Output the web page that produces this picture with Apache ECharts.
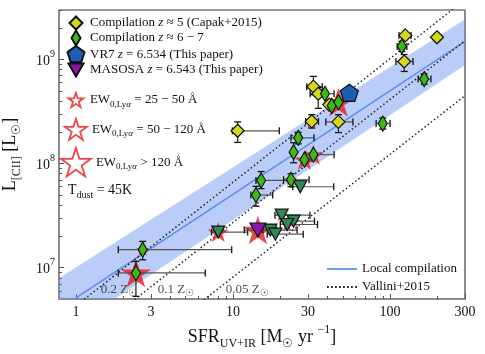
<!DOCTYPE html>
<html>
<head>
<meta charset="utf-8">
<script src="https://cdn.jsdelivr.net/npm/echarts@6/dist/echarts.min.js"></script>
<style>
  html, body { margin: 0; background: #fff; }
  #chart { width: 485px; height: 354px; }
</style>
</head>
<body>
<div id="chart"></div>
<script>
var FONT = 'Liberation Serif';

// axis ticks
var xMajor = [1, 3, 10, 30, 100, 300];
var xMinor = [2, 4, 5, 6, 7, 8, 9, 20, 40, 50, 60, 70, 80, 90, 200];
var yMajor = [1e7, 1e8, 1e9];
var yMinor = [6e6, 7e6, 8e6, 9e6, 2e7, 3e7, 4e7, 5e7, 6e7, 7e7, 8e7, 9e7,
  2e8, 3e8, 4e8, 5e8, 6e8, 7e8, 8e8, 9e8, 2e9, 3e9];

// Compilation z~5 (Capak+2015)
var capakSfr = [125, 123, 199, 32.5, 34.9, 41, 31.7, 46.9, 10.7];
var capakL = [1.71e9, 9.6e8, 1.64e9, 5.5e8, 4.7e8, 3.7e8, 2.55e8, 2.52e8, 2.07e8];
var capakSfrLo = [114, 109, null, 29.5, 31, null, 29, 39, 9.9];
var capakSfrHi = [136, 140, null, 37, 40, null, 35, 58, 19.7];
var capakLLo = [null, 7.7e8, null, 4.6e8, 3.4e8, null, 2.2e8, 1.99e8, 1.6e8];
var capakLHi = [null, 1.12e9, null, 6.9e8, 5.4e8, null, 2.96e8, 2.96e8, 2.52e8];

// Compilation z~6-7, detections
var zsixSfr = [118.8, 165, 89.8, 38.5, 42.5, 46.9, 26, 24.3, 28.5, 32.5, 15.1, 23.4, 14, 2.66, 2.41];
var zsixL = [1.34e9, 6.5e8, 2.43e8, 4.7e8, 3.6e8, 3.9e8, 1.77e8, 1.29e8, 1.09e8, 1.22e8, 6.9e7, 7.0e7, 5.0e7, 1.49e7, 8.9e6];
var zsixSfrLo = [111, 151, 81.5, 35.3, null, null, 23.4, null, null, 29, 14, 21, 13, 1.86, 1.86];
var zsixSfrHi = [128, 182, 100, 44, null, null, 32.8, null, null, 44, 22.5, 30.5, 17.9, 9.81, 6.66];
var zsixLLo = [1.2e9, 5.8e8, 2.15e8, null, null, null, 1.55e8, 1.02e8, null, null, 5.75e7, 6.0e7, 3.9e7, 1.19e7, 5.3e6];
var zsixLHi = [1.5e9, 7.3e8, 2.75e8, null, null, null, 2.0e8, 1.59e8, null, null, 8.4e7, 8.0e7, 6.05e7, 1.79e7, 1.15e7];

// Compilation z~6-7, upper limits
var limSfr = [26.8, 20.4, 24.3, 22.1, 17.3, 18.6, 8.06];
var limL = [6.0e7, 3.2e7, 2.8e7, 2.6e7, 2.3e7, 2.1e7, 2.2e7];
var limSfrLo = [24, 18.5, 22, 20, 15.5, 16.5, 7.3];
var limSfrHi = [43.8, 30.9, 33, 34.5, 25.6, 28, 12.4];
var limLLo = [null, null, null, null, null, null, null];
var limLHi = [null, null, null, null, null, null, null];

// this paper
var vr7 = [[55, 4.8e8]];
var masosaSfr = [14.4];
var masosaL = [2.3e7];
var masosaSfrLo = [11.8];
var masosaSfrHi = [19];
var masosaLLo = [null];
var masosaLHi = [null];

// Lya EW stars
var ewSmall = [[2.66, 1.49e7], [20.4, 3.2e7], [22.1, 2.6e7], [24.3, 2.8e7], [31.7, 2.55e8], [42.5, 3.6e8], [23.4, 7.0e7]];
var ewMid = [[8.06, 2.2e7], [28.5, 1.09e8], [32.5, 1.22e8]];
var ewLarge = [[2.41, 8.9e6], [14.4, 2.3e7], [46.9, 3.9e8]];

// relations
var localLine = [[0.78, 4.0e6], [300, 1.5e9]];
var bandX = [0.78, 300];
var bandUpper = [7.9e6, 2.45e9];
var bandLower = [2.2e6, 8.9e8];
var vallini02 = [[0.78, 3.2e6], [300, 3.77e9]];
var vallini01 = [[0.78, 1.33e6], [300, 1.52e9]];
var vallini005 = [[0.78, 4.0e5], [300, 4.5e8]];
var zLabelText = ['0.2', '0.1', '0.05'];
var zLabelAt = [[1.88, 6.14e6], [4.33, 6.14e6], [12.3, 6.14e6]];

var STAR = 'path://M0,-10L2.245,-3.09L9.511,-3.09L3.633,1.18L5.878,8.09L0,3.82L-5.878,8.09L-3.633,1.18L-9.511,-3.09L-2.245,-3.09Z';
var PENTA = 'path://M0,-10L9.511,-3.09L5.878,8.09L-5.878,8.09L-9.511,-3.09Z';
var TRI_DOWN = 'path://M-10,-8.66L10,-8.66L0,8.66Z';
var SOLID_ICON = 'path://M0,0h30v1.8h-30z';
var DOT_ICON = 'path://M0,0h1.8v1.8h-1.8zM4,0h1.8v1.8h-1.8zM8,0h1.8v1.8h-1.8zM12,0h1.8v1.8h-1.8zM16,0h1.8v1.8h-1.8zM20,0h1.8v1.8h-1.8zM24,0h1.8v1.8h-1.8zM28.2,0h1.8v1.8h-1.8z';

var chart = echarts.init(document.getElementById('chart'));

function pairs(xs, ys) {
  return xs.map(function (x, i) { return [x, ys[i]]; });
}

function errBars(xs, ys, xLo, xHi, yLo, yHi) {
  return function (params, api) {
    var i = params.dataIndex;
    var kids = [];
    var cap = 3.5;
    if (xLo[i] != null) {
      var a = api.coord([xLo[i], ys[i]]);
      var b = api.coord([xHi[i], ys[i]]);
      kids.push({ type: 'line', shape: { x1: a[0], y1: a[1], x2: b[0], y2: b[1] }, style: { stroke: '#555', lineWidth: 1.2 } });
      kids.push({ type: 'line', shape: { x1: a[0], y1: a[1] - cap, x2: a[0], y2: a[1] + cap }, style: { stroke: '#111', lineWidth: 1.3 } });
      kids.push({ type: 'line', shape: { x1: b[0], y1: b[1] - cap, x2: b[0], y2: b[1] + cap }, style: { stroke: '#111', lineWidth: 1.3 } });
    }
    if (yLo[i] != null) {
      var c = api.coord([xs[i], yLo[i]]);
      var d = api.coord([xs[i], yHi[i]]);
      kids.push({ type: 'line', shape: { x1: c[0], y1: c[1], x2: d[0], y2: d[1] }, style: { stroke: '#222', lineWidth: 1.2 } });
      kids.push({ type: 'line', shape: { x1: c[0] - cap, y1: c[1], x2: c[0] + cap, y2: c[1] }, style: { stroke: '#111', lineWidth: 1.3 } });
      kids.push({ type: 'line', shape: { x1: d[0] - cap, y1: d[1], x2: d[0] + cap, y2: d[1] }, style: { stroke: '#111', lineWidth: 1.3 } });
    }
    return { type: 'group', children: kids };
  };
}

function errSeries(xs, ys, xLo, xHi, yLo, yHi) {
  return {
    type: 'custom', z: 4, clip: true, silent: true,
    data: pairs(xs, ys),
    encode: { x: 0, y: 1 },
    renderItem: errBars(xs, ys, xLo, xHi, yLo, yHi)
  };
}

var rich = {
  r: { fontFamily: FONT, fontSize: 13, color: '#111' },
  i: { fontFamily: FONT, fontSize: 13, fontStyle: 'italic', color: '#111' },
  sub: { fontFamily: FONT, fontSize: 9, color: '#111', verticalAlign: 'bottom', lineHeight: 18 },
  subi: { fontFamily: FONT, fontSize: 9, fontStyle: 'italic', color: '#111', verticalAlign: 'bottom', lineHeight: 18 }
};

var legendText = {
  capak: '{r|Compilation }{i|z}{r| ≈ 5 (Capak+2015)}',
  zsix: '{r|Compilation }{i|z}{r| ≈ 6 − 7}',
  vr7: '{r|VR7 }{i|z}{r| = 6.534 (This paper)}',
  masosa: '{r|MASOSA }{i|z}{r| = 6.543 (This paper)}',
  ew1: '{r|EW}{sub|0,Ly}{subi|α}{r| = 25 − 50 Å}',
  ew2: '{r|EW}{sub|0,Ly}{subi|α}{r| = 50 − 120 Å}',
  ew3: '{r|EW}{sub|0,Ly}{subi|α}{r| > 120 Å}',
  local: '{r|Local compilation}',
  vallini: '{r|Vallini+2015}'
};

function oneLegend(name, cy, w, h, extra) {
  var gap = Math.max(0, 89 - (75 + w / 2 + 5));
  var lg = {
    data: [name], selectedMode: false, padding: 0,
    left: 75 - w / 2, top: cy - 9, itemWidth: w, itemHeight: h,
    textStyle: { fontFamily: FONT, fontSize: 13, lineHeight: 18, rich: Object.assign({ g: { width: gap } }, rich) },
    formatter: function (n) { return (gap ? '{g|}' : '') + legendText[n]; }
  };
  if (extra) Object.assign(lg, extra);
  return lg;
}

var starLegendStyle = { itemStyle: { color: '#fff', borderColor: '#e51b1b', borderWidth: 1.8 } };

var option = {
  backgroundColor: '#fff',
  animation: false,
  title: {
    text: '{r|T}{sub|dust}{r| = 45K}',
    left: 68, top: 180, padding: 0,
    textStyle: { fontWeight: 'normal', rich: {
      r: { fontFamily: FONT, fontSize: 14, fontWeight: 'normal', color: '#111' },
      sub: { fontFamily: FONT, fontSize: 10, fontWeight: 'normal', color: '#111', verticalAlign: 'bottom', lineHeight: 20 }
    } }
  },
  grid: {
    left: 59, right: 20, top: 10, bottom: 55, outerBoundsMode: 'none', containLabel: false,
    show: true, borderColor: '#333', borderWidth: 1
  },
  legend: [
    oneLegend('capak', 23, 13, 13),
    oneLegend('zsix', 38, 9, 15),
    oneLegend('vr7', 54, 17, 17),
    oneLegend('masosa', 70, 15, 14),
    oneLegend('ew1', 100, 15, 15, starLegendStyle),
    oneLegend('ew2', 127, 22, 22, starLegendStyle),
    oneLegend('ew3', 156, 30, 30, starLegendStyle),
    {
      data: [{ name: 'local', icon: SOLID_ICON }, { name: 'vallini', icon: DOT_ICON }],
      orient: 'vertical', selectedMode: false, padding: 0,
      left: 327, top: 261, itemWidth: 30, itemHeight: 1.8, itemGap: 2,
      textStyle: { fontFamily: FONT, fontSize: 13.5, lineHeight: 16, rich: rich },
      formatter: function (n) { return legendText[n]; }
    }
  ],
  xAxis: [
    {
      type: 'log', min: 0.78, max: 300, logBase: 10,
      name: '{a|SFR}{sub|UV+IR}{a| [M}{sub|☉}{a| yr }{sup|−1}{a|]}',
      nameLocation: 'middle', nameGap: 23,
      nameTextStyle: { rich: {
        a: { fontFamily: FONT, fontSize: 18, color: '#111', lineHeight: 26 },
        sub: { fontFamily: FONT, fontSize: 12, color: '#111', verticalAlign: 'bottom', lineHeight: 26 },
        sup: { fontFamily: FONT, fontSize: 12, color: '#111', verticalAlign: 'top', lineHeight: 26 }
      } },
      axisLine: { lineStyle: { color: '#888', width: 1.6 } },
      axisTick: { inside: true, length: 5, customValues: xMajor, lineStyle: { color: '#555' } },
      axisLabel: {
        customValues: xMajor, margin: 6, fontFamily: FONT, fontSize: 14, color: '#111',
        formatter: function (v) { return String(+(+v).toPrecision(3)); }
      },
      splitLine: { show: false }
    },
    {
      type: 'log', min: 0.78, max: 300, position: 'bottom',
      axisLine: { show: false },
      axisTick: { inside: true, length: 3, customValues: xMinor, lineStyle: { color: '#555' } },
      axisLabel: { show: false },
      splitLine: { show: false }
    }
  ],
  yAxis: [
    {
      type: 'log', min: 5e6, max: 3e9,
      name: '{a|L}{sub|[CII]}{a| [L}{sub|☉}{a|]}',
      nameLocation: 'middle', nameGap: 36,
      nameTextStyle: { rich: {
        a: { fontFamily: FONT, fontSize: 18, color: '#111', lineHeight: 26 },
        sub: { fontFamily: FONT, fontSize: 12, color: '#111', verticalAlign: 'bottom', lineHeight: 26 }
      } },
      axisLine: { lineStyle: { color: '#888', width: 1.6 } },
      axisTick: { inside: true, length: 5, customValues: yMajor, lineStyle: { color: '#555' } },
      axisLabel: {
        customValues: yMajor, margin: 4,
        formatter: function (v) { return '{a|10}{sup|' + Math.round(Math.log10(v)) + '}'; },
        rich: {
          a: { fontFamily: FONT, fontSize: 14, color: '#111', lineHeight: 20, padding: [4, 0, 0, 0] },
          sup: { fontFamily: FONT, fontSize: 10, color: '#111', verticalAlign: 'top', lineHeight: 20 }
        }
      },
      splitLine: { show: false }
    },
    {
      type: 'log', min: 5e6, max: 3e9, position: 'left',
      axisLine: { show: false },
      axisTick: { inside: true, length: 3, customValues: yMinor, lineStyle: { color: '#555' } },
      axisLabel: { show: false },
      splitLine: { show: false }
    },
    {
      type: 'log', min: 5e6, max: 3e9, position: 'right',
      axisLine: { show: true, lineStyle: { color: '#888', width: 1.6 } },
      axisTick: { show: false },
      axisLabel: { show: false },
      splitLine: { show: false }
    }
  ],
  series: [
    {
      type: 'custom', z: 1, clip: true, silent: true,
      data: [[bandX[0], bandUpper[0]]],
      encode: { x: 0, y: 1 },
      renderItem: function (params, api) {
        var pts = [
          api.coord([bandX[0], bandUpper[0]]),
          api.coord([bandX[1], bandUpper[1]]),
          api.coord([bandX[1], bandLower[1]]),
          api.coord([bandX[0], bandLower[0]])
        ];
        return { type: 'polygon', shape: { points: pts }, style: { fill: 'rgba(100,145,240,0.45)' } };
      }
    },
    {
      name: 'local', type: 'line', z: 2, data: localLine, symbol: 'none', clip: true,
      lineStyle: { color: '#5f8ff0', width: 1.6 }, itemStyle: { color: '#5f8ff0' }
    },
    {
      name: 'vallini', type: 'line', z: 2, data: vallini02, symbol: 'none', clip: true,
      lineStyle: { color: '#222', width: 1.5, type: [1.5, 2.5] }, itemStyle: { color: '#222' }
    },
    {
      name: 'vallini', type: 'line', z: 2, data: vallini01, symbol: 'none', clip: true,
      lineStyle: { color: '#222', width: 1.5, type: [1.5, 2.5] }, itemStyle: { color: '#222' }
    },
    {
      name: 'vallini', type: 'line', z: 2, data: vallini005, symbol: 'none', clip: true,
      lineStyle: { color: '#222', width: 1.5, type: [1.5, 2.5] }, itemStyle: { color: '#222' }
    },
    {
      type: 'scatter', z: 2, data: zLabelAt, symbolSize: 0, silent: true,
      label: {
        show: true, position: 'inside',
        formatter: function (p) { return '{r|' + zLabelText[p.dataIndex] + ' Z}{sub|☉}'; },
        rich: {
          r: { fontFamily: FONT, fontSize: 13, color: '#222' },
          sub: { fontFamily: FONT, fontSize: 10, color: '#222', verticalAlign: 'bottom', lineHeight: 18 }
        }
      }
    },
    {
      name: 'ew1', type: 'scatter', z: 3, data: ewSmall, symbol: STAR, symbolSize: 13, symbolKeepAspect: true,
      itemStyle: { color: '#e51b1b' }
    },
    {
      name: 'ew2', type: 'scatter', z: 3, data: ewMid, symbol: STAR, symbolSize: 21, symbolKeepAspect: true,
      itemStyle: { color: '#e51b1b' }
    },
    {
      name: 'ew3', type: 'scatter', z: 3, data: ewLarge, symbol: STAR, symbolSize: 30, symbolKeepAspect: true,
      itemStyle: { color: '#e51b1b' }
    },
    errSeries(capakSfr, capakL, capakSfrLo, capakSfrHi, capakLLo, capakLHi),
    errSeries(zsixSfr, zsixL, zsixSfrLo, zsixSfrHi, zsixLLo, zsixLHi),
    errSeries(limSfr, limL, limSfrLo, limSfrHi, limLLo, limLHi),
    errSeries(masosaSfr, masosaL, masosaSfrLo, masosaSfrHi, masosaLLo, masosaLHi),
    {
      name: 'capak', type: 'scatter', z: 5, data: pairs(capakSfr, capakL),
      symbol: 'diamond', symbolSize: 13,
      itemStyle: { color: '#d6d61a', borderColor: '#111', borderWidth: 1.2, opacity: 1 }
    },
    {
      name: 'zsix', type: 'scatter', z: 5, data: pairs(zsixSfr, zsixL),
      symbol: 'diamond', symbolSize: [9, 15],
      itemStyle: { color: '#3cb916', borderColor: '#111', borderWidth: 1.2, opacity: 1 }
    },
    {
      name: 'limits', type: 'scatter', z: 5, data: pairs(limSfr, limL),
      symbol: TRI_DOWN, symbolSize: [13, 12],
      itemStyle: { color: '#2f8a55', borderColor: '#111', borderWidth: 1.2, opacity: 1 }
    },
    {
      name: 'vr7', type: 'scatter', z: 5, data: vr7,
      symbol: PENTA, symbolSize: 18, symbolKeepAspect: true,
      itemStyle: { color: '#1a5fb4', borderColor: '#111', borderWidth: 1.2, opacity: 1 }
    },
    {
      name: 'masosa', type: 'scatter', z: 5, data: pairs(masosaSfr, masosaL),
      symbol: TRI_DOWN, symbolSize: [16, 14],
      itemStyle: { color: '#8e16b0', borderColor: '#111', borderWidth: 1.2, opacity: 1 }
    }
  ]
};

chart.setOption(option);
</script>
</body>
</html>
